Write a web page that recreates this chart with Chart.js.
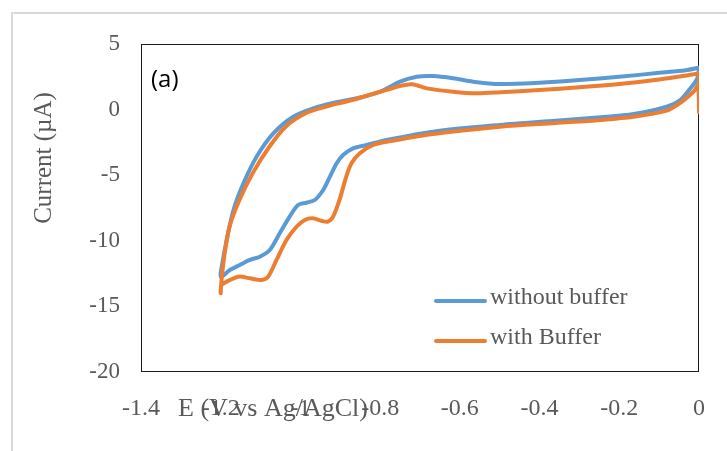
<!DOCTYPE html>
<html>
<head>
<meta charset="utf-8">
<script src="https://cdn.jsdelivr.net/npm/chart.js@4.4.1/dist/chart.umd.min.js"></script>
<style>
  html, body { margin: 0; padding: 0; background: #fff; }
  #wrap { position: relative; width: 727px; height: 451px; overflow: hidden; }
  #frame { position: absolute; left: 11px; top: 12px; width: 740px; height: 460px;
           border-top: 2px solid #d9d9d9; border-left: 2px solid #d9d9d9; }
  canvas { position: absolute; left: 0; top: 0; }
</style>
</head>
<body>
<div id="wrap">
  <div id="frame"></div>
  <canvas id="cv" width="727" height="451"></canvas>
</div>
<script>
// Cyclic voltammograms: potential (V vs Ag/AgCl) and current (µA),
// each loop starting at 0 V, sweeping cathodically to -1.2 V and back.
const seriesLabels = ['without buffer', 'with Buffer'];

const withoutBufferE = [0, -0.004, -0.012, -0.022, -0.047, -0.081, -0.164, -0.247, -0.36, -0.499,
  -0.667, -0.784, -0.834, -0.868, -0.893, -0.909, -0.926, -0.943, -0.964, -0.985,
  -1.006, -1.027, -1.052, -1.077, -1.102, -1.127, -1.152, -1.177, -1.2,
  -1.197, -1.185, -1.168, -1.143, -1.110, -1.068, -1.018, -0.968, -0.918, -0.859,
  -0.800, -0.750, -0.708, -0.667, -0.617, -0.567, -0.499, -0.4, -0.3, -0.2, -0.1, -0.033, 0];
const withoutBufferI = [3.15, 2.4, 2.0, 1.6, 0.73, 0.22, -0.34, -0.59, -0.85, -1.17,
  -1.68, -2.32, -2.70, -2.95, -3.46, -4.09, -5.11, -6.13, -6.89, -7.10,
  -7.27, -8.16, -9.43, -10.70, -11.21, -11.46, -11.84, -12.23, -12.75,
  -11.9, -9.94, -7.65, -5.62, -3.59, -1.81, -0.54, 0.10, 0.50, 0.86,
  1.36, 2.13, 2.51, 2.56, 2.39, 2.13, 1.95, 2.05, 2.25, 2.5, 2.8, 3.0, 3.2];

const withBufferE = [0, 0, -0.002, -0.01, -0.023, -0.05, -0.081, -0.164, -0.247, -0.36, -0.499,
  -0.667, -0.784, -0.818, -0.851, -0.872, -0.885, -0.902, -0.918, -0.931, -0.948,
  -0.969, -0.989, -1.010, -1.035, -1.060, -1.081, -1.098, -1.127, -1.152, -1.177, -1.198, -1.2,
  -1.198, -1.19, -1.178, -1.153, -1.120, -1.078, -1.037, -0.987, -0.937, -0.870,
  -0.800, -0.750, -0.720, -0.683, -0.617, -0.558, -0.499, -0.4, -0.3, -0.2, -0.1, 0];
const withBufferI = [2.75, -0.2, 1.9, 1.5, 1.11, 0.45, -0.08, -0.55, -0.79, -1.02, -1.30,
  -1.86, -2.45, -2.70, -3.33, -4.09, -5.11, -6.89, -8.16, -8.54, -8.47,
  -8.29, -8.41, -8.93, -9.94, -11.46, -12.73, -12.99, -12.86, -12.73, -12.99, -13.37, -14.0,
  -13.0, -10.95, -8.93, -6.89, -4.86, -2.83, -1.30, -0.28, 0.22, 0.73,
  1.36, 1.80, 1.93, 1.62, 1.36, 1.24, 1.32, 1.5, 1.7, 1.95, 2.3, 2.75];

const xTitle = 'E (V vs Ag/AgCl)';
const yTitle = 'Current (µA)';
const panelTag = '(a)';

const BLUE = '#5B9BD5';
const ORANGE = '#ED7D31';
const TEXT = '#595959';
const SERIF = '"Liberation Serif", "Times New Roman", serif';

const toPoints = (xs, ys) => xs.map((x, i) => ({ x: x, y: ys[i] }));

// Plot frame, axis titles overlapping the tick row, in-plot legend and panel tag
const decor = {
  id: 'decor',
  beforeDatasetsDraw(chart) {
    const { ctx, chartArea: a } = chart;
    ctx.save();
    ctx.strokeStyle = '#1a1a1a';
    ctx.lineWidth = 1;
    ctx.strokeRect(Math.round(a.left) + 0.5, Math.round(a.top) + 0.5,
                   Math.round(a.width) - 1, Math.round(a.height) - 1);
    ctx.restore();
  },
  afterDraw(chart) {
    const { ctx, chartArea: a } = chart;
    ctx.save();
    // x title sits on the tick-label row
    ctx.fillStyle = TEXT;
    ctx.font = '26px ' + SERIF;
    ctx.textAlign = 'center';
    ctx.textBaseline = 'middle';
    ctx.fillText(xTitle, a.left + 132, a.bottom + 37);
    // y title, rotated
    ctx.save();
    ctx.translate(44, a.top + 114);
    ctx.rotate(-Math.PI / 2);
    ctx.font = '25px ' + SERIF;
    ctx.fillText(yTitle, 0, 0);
    ctx.restore();
    // panel tag
    ctx.fillStyle = '#000';
    ctx.font = '24px "Open Sans", sans-serif';
    ctx.textAlign = 'left';
    ctx.fillText(panelTag, a.left + 10, a.top + 36);
    // legend
    const colors = [BLUE, ORANGE];
    const rows = [a.top + 254, a.top + 294];
    ctx.font = '24px ' + SERIF;
    ctx.lineCap = 'round';
    seriesLabels.forEach((lab, i) => {
      ctx.strokeStyle = colors[i];
      ctx.lineWidth = 4;
      ctx.beginPath();
      ctx.moveTo(a.left + 295, rows[i] + 3);
      ctx.lineTo(a.left + 344, rows[i] + 3);
      ctx.stroke();
      ctx.fillStyle = TEXT;
      ctx.fillText(lab, a.left + 349, rows[i]);
    });
    ctx.restore();
  }
};

new Chart(document.getElementById('cv'), {
  type: 'scatter',
  data: {
    datasets: [
      {
        label: seriesLabels[0],
        data: toPoints(withoutBufferE, withoutBufferI),
        showLine: true, borderColor: BLUE, borderWidth: 4, pointRadius: 0,
        tension: 0.3, borderCapStyle: 'round', borderJoinStyle: 'round', order: 1
      },
      {
        label: seriesLabels[1],
        data: toPoints(withBufferE, withBufferI),
        showLine: true, borderColor: ORANGE, borderWidth: 4, pointRadius: 0,
        tension: 0.3, borderCapStyle: 'round', borderJoinStyle: 'round', order: 0
      }
    ]
  },
  options: {
    responsive: false,
    animation: false,
    layout: { padding: { left: 0, right: 28, top: 44, bottom: 0 } },
    plugins: { legend: { display: false }, tooltip: { enabled: false } },
    scales: {
      x: {
        type: 'linear', min: -1.4, max: 0,
        grid: { display: false }, border: { display: false },
        ticks: {
          stepSize: 0.2, autoSkip: false, maxRotation: 0, padding: 14,
          color: TEXT, font: { family: SERIF, size: 24 },
          callback: v => String(Number(v.toFixed(1)))
        },
        afterFit: s => { s.height = 79; }
      },
      y: {
        min: -20, max: 5,
        grid: { display: false }, border: { display: false },
        ticks: {
          stepSize: 5, autoSkip: false, padding: 13,
          color: TEXT, font: { family: SERIF, size: 23 }
        },
        afterFit: s => { s.width = 141; }
      }
    }
  },
  plugins: [decor]
});
</script>
</body>
</html>
